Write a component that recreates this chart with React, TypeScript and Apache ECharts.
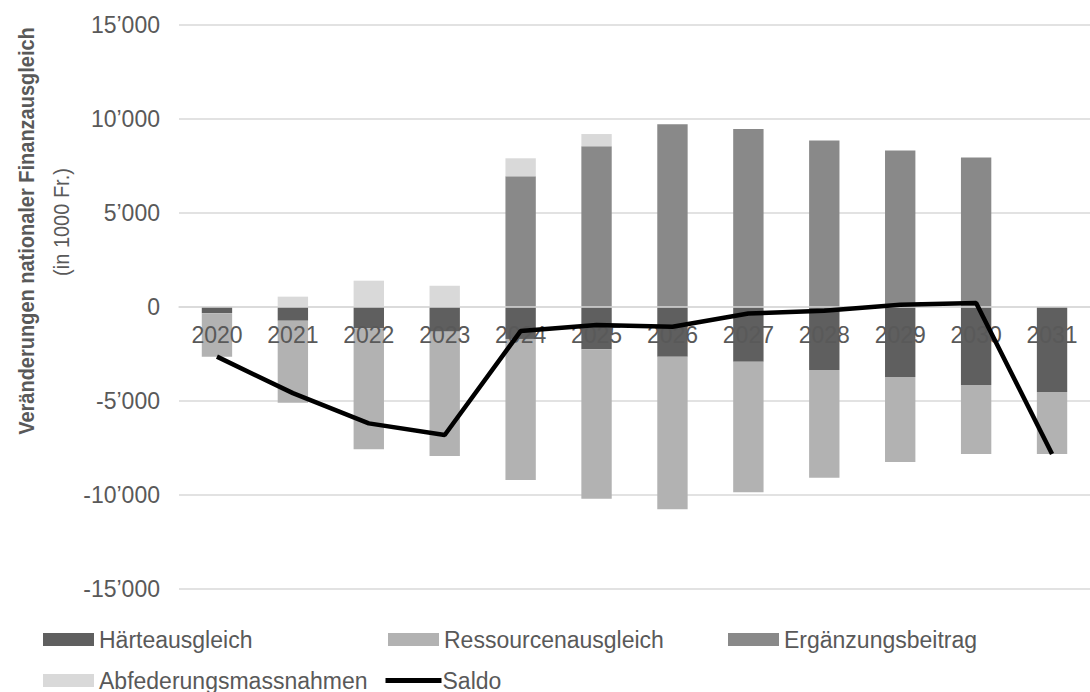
import React, { useEffect, useRef } from "react";
import * as echarts from "echarts";

const categories = ["2020", "2021", "2022", "2023", "2024", "2025", "2026", "2027", "2028", "2029", "2030", "2031"];
const haerteausgleich = [-330, -730, -1130, -1310, -1700, -2250, -2640, -2910, -3350, -3720, -4150, -4520];
const ressourcenausgleich = [-2310, -4360, -6440, -6620, -7500, -7950, -8120, -6950, -5730, -4530, -3670, -3300];
const ergaenzungsbeitrag = [0, 0, 0, 0, 6950, 8550, 9720, 9470, 8860, 8320, 7950, 0];
const abfederungsmassnahmen = [0, 550, 1400, 1130, 960, 650, 0, 0, 0, 0, 0, 0];
const saldo = [-2640, -4580, -6190, -6810, -1280, -960, -1050, -350, -200, 120, 210, -7820];

const yMin = -15000;
const yMax = 15000;
const yInterval = 5000;

const FONT = "'Liberation Sans', Arial, sans-serif";
const TEXT = "#595959";

const GRID_TOP = 25;
const GRID_BOTTOM = 103;
const CHART_H = 692;

function fmt(v: number): string {
  const s = Math.abs(v).toString().replace(/\B(?=(\d{3})+(?!\d))/g, "\u2019");
  return v < 0 ? "-" + s : s;
}

export default function App() {
  const ref = useRef<HTMLDivElement>(null);
  useEffect(() => {
    document.body.style.margin = "0";
    const chart = echarts.init(ref.current!, null, { renderer: "svg" });
    const barCommon = {
      type: "bar" as const,
      stack: "total",
      barCategoryGap: "60%",
      z: 2,
    };
    const plotH = CHART_H - GRID_TOP - GRID_BOTTOM;
    const zeroOffset = -plotH * (0 - yMin) / (yMax - yMin);
    const legendText = { color: TEXT, fontSize: 23, fontFamily: FONT };
    const legendBase = { itemWidth: 51, itemHeight: 13, itemGap: 0, padding: 0, textStyle: legendText };
    chart.setOption({
      animation: false,
      backgroundColor: "#ffffff",
      grid: { left: 179, right: -9, top: GRID_TOP, bottom: GRID_BOTTOM, containLabel: false },
      legend: [
        { ...legendBase, data: ["Härteausgleich"], left: 43, top: 628, icon: "rect" },
        { ...legendBase, data: ["Ressourcenausgleich"], left: 388, top: 628, icon: "rect" },
        { ...legendBase, data: ["Ergänzungsbeitrag"], left: 728, top: 628, icon: "rect" },
        { ...legendBase, data: ["Abfederungsmassnahmen"], left: 43, top: 669, icon: "rect" },
        {
          ...legendBase,
          data: ["Saldo"],
          left: 383,
          top: 669,
          itemWidth: 56,
          lineStyle: { width: 5, color: "#000000" },
          itemStyle: { opacity: 0 },
          textStyle: { ...legendText, padding: [0, 0, 0, -4] },
        },
      ],
      xAxis: {
        type: "category",
        data: categories,
        z: 3,
        offset: zeroOffset,
        axisLine: { onZero: false, lineStyle: { color: "#d9d9d9", width: 1.5 } },
        axisTick: { show: false },
        axisLabel: { color: TEXT, fontSize: 23, fontFamily: FONT, margin: 16 },
      },
      yAxis: {
        type: "value",
        min: yMin,
        max: yMax,
        interval: yInterval,
        axisLine: { show: false },
        axisTick: { show: false },
        splitLine: { lineStyle: { color: "#d9d9d9", width: 1.5 } },
        axisLabel: { color: TEXT, fontSize: 23, fontFamily: FONT, margin: 19, formatter: (v: number) => fmt(v) },
      },
      graphic: [
        {
          type: "text",
          x: 26,
          y: 231,
          rotation: Math.PI / 2,
          style: {
            text: "Veränderungen nationaler Finanzausgleich",
            fill: TEXT,
            font: `bold 20px ${FONT}`,
            align: "center",
            verticalAlign: "middle",
          },
          scaleY: 1.12,
        },
        {
          type: "text",
          x: 61,
          y: 222,
          rotation: Math.PI / 2,
          style: {
            text: "(in 1000 Fr.)",
            fill: TEXT,
            font: `20px ${FONT}`,
            align: "center",
            verticalAlign: "middle",
          },
          scaleY: 1.1,
        },
      ],
      series: [
        { ...barCommon, name: "Härteausgleich", data: haerteausgleich, itemStyle: { color: "#5f5f5f" } },
        { ...barCommon, name: "Ressourcenausgleich", data: ressourcenausgleich, itemStyle: { color: "#b2b2b2" } },
        { ...barCommon, name: "Ergänzungsbeitrag", data: ergaenzungsbeitrag, itemStyle: { color: "#898989" } },
        { ...barCommon, name: "Abfederungsmassnahmen", data: abfederungsmassnahmen, itemStyle: { color: "#d9d9d9" } },
        {
          name: "Saldo",
          type: "line",
          data: saldo,
          z: 4,
          symbol: "none",
          lineStyle: { color: "#000000", width: 4.5 },
          itemStyle: { color: "#000000" },
        },
      ],
    });
    return () => chart.dispose();
  }, []);
  return <div ref={ref} style={{ width: 1090, height: 692, position: "absolute", left: 0, top: 0 }} />;
}
